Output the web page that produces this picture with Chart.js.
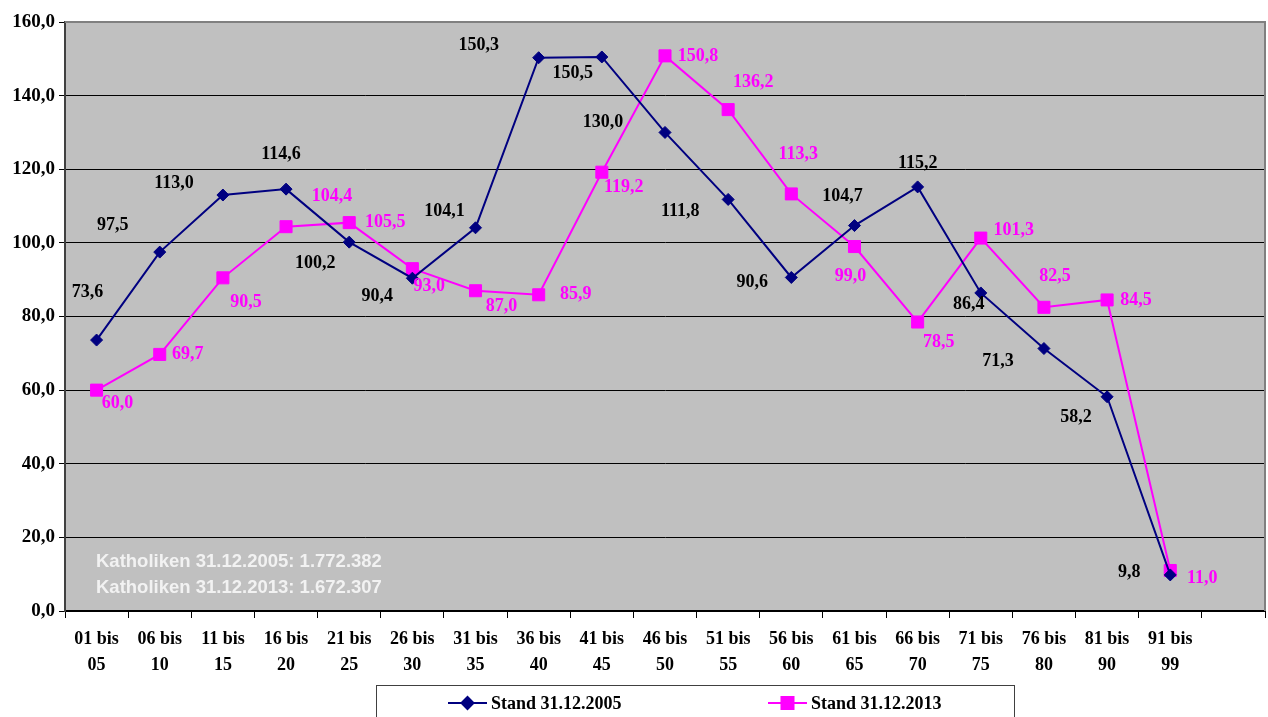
<!DOCTYPE html>
<html>
<head>
<meta charset="utf-8">
<script src="https://cdn.jsdelivr.net/npm/chart.js@4/dist/chart.umd.min.js"></script>
<style>
  html, body { margin: 0; padding: 0; background: #fff; }
  #wrap { width: 1268px; height: 717px; }
</style>
</head>
<body>
<div id="wrap"><canvas id="chart" width="1268" height="717"></canvas></div>
<script>
// Age groups (last slot is an empty category, as in the original)
const ageGroups = [
  ['01 bis', '05'], ['06 bis', '10'], ['11 bis', '15'], ['16 bis', '20'],
  ['21 bis', '25'], ['26 bis', '30'], ['31 bis', '35'], ['36 bis', '40'],
  ['41 bis', '45'], ['46 bis', '50'], ['51 bis', '55'], ['56 bis', '60'],
  ['61 bis', '65'], ['66 bis', '70'], ['71 bis', '75'], ['76 bis', '80'],
  ['81 bis', '90'], ['91 bis', '99'], ''
];

const stand2005 = [73.6, 97.5, 113.0, 114.6, 100.2, 90.4, 104.1, 150.3, 150.5,
  130.0, 111.8, 90.6, 104.7, 115.2, 86.4, 71.3, 58.2, 9.8];
const stand2013 = [60.0, 69.7, 90.5, 104.4, 105.5, 93.0, 87.0, 85.9, 119.2,
  150.8, 136.2, 113.3, 99.0, 78.5, 101.3, 82.5, 84.5, 11.0];

const seriesNames = ['Stand 31.12.2005', 'Stand 31.12.2013'];
const yTicks = [0, 20, 40, 60, 80, 100, 120, 140, 160];

const infoLines = ['Katholiken 31.12.2005: 1.772.382', 'Katholiken 31.12.2013: 1.672.307'];

// label offsets from each point (pixels), mimicking the hand-placed Excel labels
const offsets2005 = [[-9,-48],[-47,-27],[-49,-12],[-5,-35],[-34,21],[-35,18],[-31,-16],[-60,-12],[-29,16],
  [-62,-10],[-48,12],[-39,5],[-12,-29],[0,-24],[-12,11],[-46,13],[-31,21],[-41,-3]];
const offsets2013 = [[21,13],[28,0],[23,24],[46,-30],[36,0],[17,18],[26,16],[37,0],[22,15],
  [33,0],[25,-27],[7,-40],[-4,30],[21,20],[33,-8],[11,-31],[29,0],[32,8]];

const NAVY = '#000080';
const MAGENTA = '#FF00FF';
const serif = '"Liberation Serif", "DejaVu Serif", serif';

function fmt(v) {
  return v.toFixed(1).replace('.', ',');
}

// grey plot background
const plotBackground = {
  id: 'plotBackground',
  beforeDraw(chart) {
    const a = chart.chartArea;
    const ctx = chart.ctx;
    ctx.save();
    ctx.fillStyle = '#C0C0C0';
    ctx.fillRect(a.left, a.top, a.right - a.left, a.bottom - a.top);
    ctx.restore();
  },
  afterDraw(chart) {
    // outer frame of plot area (top + right)
    const a = chart.chartArea;
    const ctx = chart.ctx;
    ctx.save();
    ctx.strokeStyle = '#808080';
    ctx.lineWidth = 2;
    ctx.beginPath();
    ctx.moveTo(a.left, a.top);
    ctx.lineTo(a.right, a.top);
    ctx.lineTo(a.right, a.bottom);
    ctx.stroke();
    ctx.restore();
  }
};

// value labels next to each point
const pointLabels = {
  id: 'pointLabels',
  afterDatasetsDraw(chart) {
    const ctx = chart.ctx;
    const offs = [offsets2005, offsets2013];
    const colors = ['#000000', MAGENTA];
    ctx.save();
    ctx.font = 'bold 18px ' + serif;
    ctx.textAlign = 'center';
    ctx.textBaseline = 'middle';
    chart.data.datasets.forEach((ds, i) => {
      const meta = chart.getDatasetMeta(i);
      ctx.fillStyle = colors[i];
      meta.data.forEach((pt, j) => {
        const v = ds.data[j];
        if (v == null) return;
        const o = offs[i][j];
        ctx.fillText(fmt(v), pt.x + o[0], pt.y + o[1]);
      });
    });

    // info text in lower-left corner of the plot
    const a = chart.chartArea;
    ctx.fillStyle = '#F2F2F2';
    ctx.textAlign = 'left';
    ctx.font = 'bold 18.5px "Liberation Sans", Arial, sans-serif';
    ctx.fillText(infoLines[0], a.left + 31, 562);
    ctx.fillText(infoLines[1], a.left + 31, 588);
    ctx.restore();
  }
};

// boxed legend below the axis
const boxLegend = {
  id: 'boxLegend',
  afterDraw(chart) {
    const ctx = chart.ctx;
    ctx.save();
    ctx.strokeStyle = '#404040';
    ctx.lineWidth = 1;
    ctx.strokeRect(376.5, 685.5, 638, 60);

    const items = [
      { x: 448, color: NAVY, style: 'rectRot', r: 6 },
      { x: 768, color: MAGENTA, style: 'rect', r: 8.5 }
    ];
    const y = 703;
    ctx.font = 'bold 18px ' + serif;
    ctx.textBaseline = 'middle';
    ctx.textAlign = 'left';
    items.forEach((it, i) => {
      ctx.strokeStyle = it.color;
      ctx.lineWidth = 2;
      ctx.beginPath();
      ctx.moveTo(it.x, y);
      ctx.lineTo(it.x + 39, y);
      ctx.stroke();
      ctx.fillStyle = it.color;
      Chart.helpers.drawPoint(ctx, { pointStyle: it.style, radius: it.r, borderWidth: 1 }, it.x + 19.5, y);
      ctx.fill();
      ctx.fillStyle = '#000';
      ctx.fillText(seriesNames[i], it.x + 43, y + 1);
    });
    ctx.restore();
  }
};

const ctx = document.getElementById('chart').getContext('2d');
const chart = new Chart(ctx, {
  type: 'line',
  data: {
    labels: ageGroups,
    datasets: [
      {
        label: seriesNames[0],
        data: stand2005,
        borderColor: NAVY,
        backgroundColor: NAVY,
        borderWidth: 2,
        pointStyle: 'rectRot',
        pointRadius: 6,
        pointBorderWidth: 1,
        tension: 0
      },
      {
        label: seriesNames[1],
        data: stand2013,
        borderColor: MAGENTA,
        backgroundColor: MAGENTA,
        borderWidth: 2,
        pointStyle: 'rect',
        pointRadius: 8.5,
        pointBorderWidth: 1,
        tension: 0
      }
    ]
  },
  options: {
    responsive: false,
    animation: false,
    layout: { autoPadding: false, padding: { top: 22, right: 3, left: 0, bottom: 0 } },
    plugins: {
      legend: { display: false },
      tooltip: { enabled: false }
    },
    scales: {
      x: {
        offset: true,
        grid: {
          offset: true,
          drawOnChartArea: false,
          color: '#000',
          tickLength: 7
        },
        border: { color: '#000', width: 2 },
        ticks: {
          color: '#000',
          font: { family: serif, size: 18, weight: 'bold', lineHeight: 1.45 },
          maxRotation: 0,
          autoSkip: false,
          padding: 8
        },
        afterFit(scale) {
          scale.height = 106;
          scale.paddingLeft = 0;
          scale.paddingRight = 0;
        }
      },
      y: {
        min: 0,
        max: 160,
        afterBuildTicks(scale) { scale.ticks = yTicks.map(v => ({ value: v })); },
        grid: { color: '#000', lineWidth: 1, tickLength: 6 },
        border: { color: '#404040', width: 2 },
        ticks: {
          color: '#000',
          font: { family: serif, size: 19, weight: 'bold' },
          padding: 4,
          callback: v => fmt(v)
        },
        afterFit(scale) {
          scale.width = 65;
          scale.paddingTop = 0;
          scale.paddingBottom = 0;
        }
      }
    }
  },
  plugins: [plotBackground, pointLabels, boxLegend]
});
</script>
</body>
</html>
